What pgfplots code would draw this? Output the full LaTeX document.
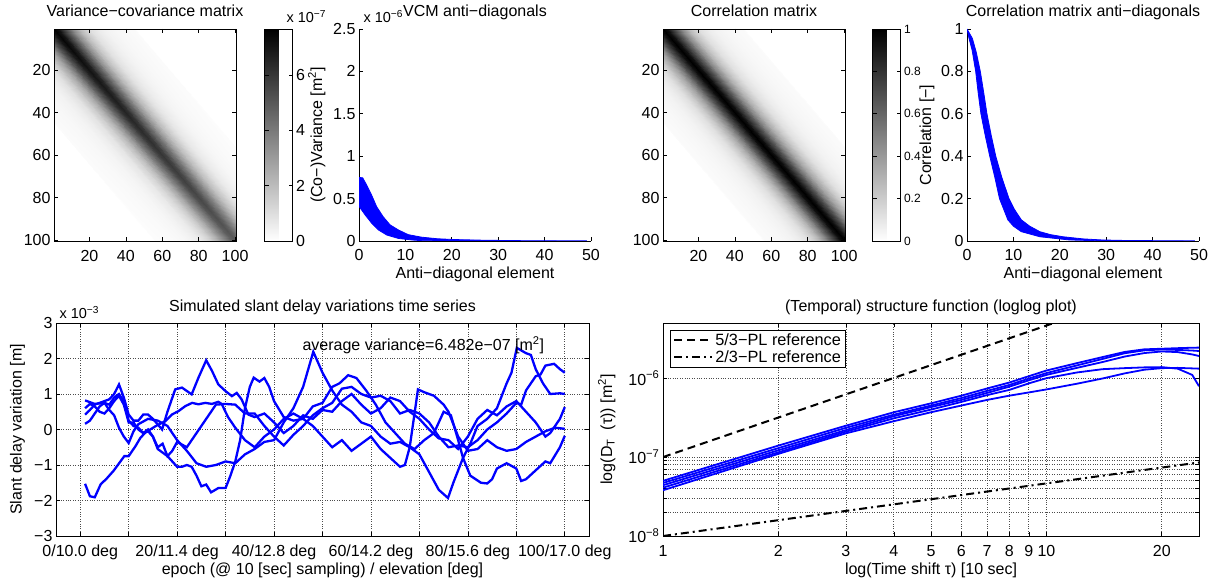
\documentclass[border=0pt]{standalone}
\usepackage{pgfplots}
\pgfplotsset{compat=1.18}
\usepackage{pgfplotstable}
\usepackage{fontspec}
\setmainfont{Liberation Sans}
\newcommand\fs{\fontsize{16}{19.2}\selectfont}
\newcommand\fsc{\fontsize{14.5}{17.4}\selectfont}
\newcommand\fss{\fontsize{12}{14.4}\selectfont}
\definecolor{mblue}{rgb}{0,0,1}

% lattice of lines parallel to the diagonal: x y v(VCM, 1e-7 m^2) c(correlation)
\pgfplotstableread{
x y v c
0.5 100.5 0 0
0.5 100.5 0 0
0.5 45.5 0 0
55.5 100.5 0 0
0.5 44.5 0.13 0.017
56.5 100.5 0.085 0.017
0.5 40.5 0.17 0.022
60.5 100.5 0.11 0.022
0.5 34.5 0.24 0.032
66.5 100.5 0.16 0.032
0.5 28.5 0.38 0.05
72.5 100.5 0.25 0.05
0.5 24.5 0.57 0.075
76.5 100.5 0.38 0.075
0.5 20.5 0.91 0.12
80.5 100.5 0.6 0.12
0.5 16.5 1.6 0.21
84.5 100.5 1.05 0.21
0.5 14.5 2.13 0.28
86.5 100.5 1.4 0.28
0.5 12.5 2.74 0.36
88.5 100.5 1.8 0.36
0.5 10.5 3.5 0.46
90.5 100.5 2.3 0.46
0.5 8.5 4.33 0.57
92.5 100.5 2.85 0.57
0.5 6.5 5.32 0.70
94.5 100.5 3.5 0.70
0.5 4.5 6.31 0.83
96.5 100.5 4.15 0.83
0.5 2.5 7.14 0.94
98.5 100.5 4.7 0.94
0.5 0.5 7.6 1
100.5 100.5 5.0 1
2.5 0.5 7.14 0.94
100.5 98.5 4.7 0.94
4.5 0.5 6.31 0.83
100.5 96.5 4.15 0.83
6.5 0.5 5.32 0.70
100.5 94.5 3.5 0.70
8.5 0.5 4.33 0.57
100.5 92.5 2.85 0.57
10.5 0.5 3.5 0.46
100.5 90.5 2.3 0.46
12.5 0.5 2.74 0.36
100.5 88.5 1.8 0.36
14.5 0.5 2.13 0.28
100.5 86.5 1.4 0.28
16.5 0.5 1.6 0.21
100.5 84.5 1.05 0.21
20.5 0.5 0.91 0.12
100.5 80.5 0.6 0.12
24.5 0.5 0.57 0.075
100.5 76.5 0.38 0.075
28.5 0.5 0.38 0.05
100.5 72.5 0.25 0.05
34.5 0.5 0.24 0.032
100.5 66.5 0.16 0.032
40.5 0.5 0.17 0.022
100.5 60.5 0.11 0.022
44.5 0.5 0.13 0.017
100.5 56.5 0.085 0.017
45.5 0.5 0 0
100.5 55.5 0 0
100.5 0.5 0 0
100.5 0.5 0 0
}\lattice

\pgfplotsset{
  every axis/.append style={font=\fs, scale only axis, anchor=south west,
    tick align=inside, major tick length=4pt,
    axis line style={line width=0.8pt}, tick style={line width=0.7pt, black},
    /pgf/number format/assume math mode=true},
  every axis title/.style={at={(0.5,1)}, anchor=base, yshift=12pt},
  every axis x label/.style={at={(axis description cs:0.5,0)}, anchor=base, yshift=-38pt},
  every axis y label/.style={rotate=90, anchor=base},
  xticklabel style={anchor=base, yshift=-20pt},
  mat/.style={width=182pt, height=212pt, xmin=0.5, xmax=100.5, ymin=0.5, ymax=100.5,
    y dir=reverse, xtick={20,40,60,80,100}, ytick={20,40,60,80,100},
    xticklabels={20,40,60,80,100}, yticklabels={20,40,60,80,100}, axis on top,
    colormap={wb}{gray(0cm)=(1); gray(1cm)=(0)}, colorbar},
  ad/.style={width=232pt, height=212pt, xmin=0, xmax=50, ymin=0, axis lines*=left,
    xtick={0,10,20,30,40,50}, xticklabels={0,10,20,30,40,50},
    xlabel={Anti−diagonal element}},
}

\begin{document}
\begin{tikzpicture}[font=\fs]
\useasboundingbox (0pt,0pt) rectangle (1213pt,584pt);

% ---------- VCM matrix
\begin{axis}[mat, at={(54pt,343pt)}, title={Variance−covariance matrix},
  point meta min=0, point meta max=7.66,
  colorbar style={at={(parent axis.north east)}, anchor=north west, xshift=20pt,
    scale only axis, width=28pt, height=212pt, ytick={0,2,4,6}, yticklabels={0,2,4,6},
    yticklabel pos=right, tick align=inside, major tick length=4pt}]
\addplot[surf, shader=interp, mesh/cols=2, point meta=explicit] table[x=x, y=y, meta=v] {\lattice};
\end{axis}
\node[anchor=base west, font=\fsc] at (283pt,561pt) {x 10\textsuperscript{−7}};

% ---------- VCM anti-diagonals
\begin{axis}[ad, at={(359pt,343pt)}, ymax=2.5,
  ytick={0,0.5,1,1.5,2,2.5}, yticklabels={0,0.5,1,1.5,2,2.5},
  title={VCM anti−diagonals}, ylabel={(Co−)Variance [m\textsuperscript{2}]},
  ylabel style={at={(axis description cs:-0.159,0.5)}}]
\addplot[fill=mblue, draw=mblue, line width=0.8pt] coordinates {
(0,0.75)(0.8,0.745)(1.65,0.66)(2.73,0.54)(3.8,0.405)(5.2,0.287)(6.7,0.19)(8.5,0.13)
(10.6,0.075)(13.5,0.045)(17,0.026)(20.7,0.017)(27,0.009)(35,0.004)(49,0.002)
(49,0)(35,0)(20,0.001)(13.5,0.004)(11.4,0.012)(8.5,0.03)(6.0,0.07)(4.2,0.13)
(2.73,0.21)(1.29,0.31)(0,0.41)};
\end{axis}
\node[anchor=base west, font=\fsc] at (360pt,561pt) {x 10\textsuperscript{−6}};

% ---------- Correlation matrix
\begin{axis}[mat, at={(663pt,343pt)}, title={Correlation matrix},
  point meta min=0, point meta max=1,
  colorbar style={at={(parent axis.north east)}, anchor=north west, xshift=19pt,
    scale only axis, width=28pt, height=212pt, ytick={0,0.2,0.4,0.6,0.8,1},
    yticklabels={0,0.2,0.4,0.6,0.8,1}, yticklabel style={font=\fss},
    yticklabel pos=right, tick align=inside, major tick length=4pt}]
\addplot[surf, shader=interp, mesh/cols=2, point meta=explicit] table[x=x, y=y, meta=c] {\lattice};
\end{axis}

% ---------- Correlation anti-diagonals
\begin{axis}[ad, at={(967pt,343pt)}, ymax=1,
  ytick={0,0.2,0.4,0.6,0.8,1}, yticklabels={0,0.2,0.4,0.6,0.8,1},
  title={Correlation matrix anti−diagonals}, ylabel={Correlation [−]},
  ylabel style={at={(axis description cs:-0.155,0.5)}}]
\addplot[fill=mblue, draw=mblue, line width=0.8pt] coordinates {
(0,1)(1.15,0.956)(2,0.89)(2.87,0.8)(3.6,0.7)(4.3,0.6)(5.2,0.5)(6.2,0.4)(7.5,0.3)
(9.05,0.2)(10.2,0.15)(11.7,0.1)(13.5,0.07)(15.7,0.044)(18,0.03)(20.7,0.02)(25,0.01)
(29,0.005)(35,0.002)(49,0.001)
(49,0)(30,0)(22,0.005)(15.7,0.02)(11.7,0.044)(10,0.07)(8.8,0.1)(7,0.2)(6,0.3)
(4.9,0.4)(3.9,0.5)(3.0,0.6)(2.4,0.7)(1.87,0.8)(1.1,0.9)(0.43,0.956)(0,1)};
\end{axis}

% ---------- Time series
\begin{axis}[at={(56pt,48pt)}, width=533pt, height=213pt, xmin=-5, xmax=105, ymin=-3, ymax=3,
  xtick={0,10,...,100},
  xticklabels={0/10.0 deg,{},20/11.4 deg,{},40/12.8 deg,{},60/14.2 deg,{},80/15.6 deg,{},100/17.0 deg},
  ytick={-3,-2,-1,0,1,2,3}, yticklabels={−3,−2,−1,0,1,2,3},
  grid=major, major grid style={dotted, black!70, line width=0.7pt},
  title={Simulated slant delay variations time series},
  xlabel={epoch (@ 10 [sec] sampling) / elevation [deg]},
  ylabel={Slant delay variation [m]},
  ylabel style={at={(axis description cs:-0.0647,0.5)}}]
\addplot[mblue, line width=2.3pt] coordinates {
(1,-1.53)(2,-1.88)(3,-1.91)(4.2,-1.55)(5.6,-1.36)(6.9,-1.16)(7.6,-1.03)(9.1,-0.75)(10,-0.75)
(11.4,-0.47)(12.4,-0.24)(13.4,-0.09)(15.5,0.09)(17.6,0.24)(18.9,0.42)(20.3,0.52)(21.7,0.66)
(23.1,0.75)(24.4,0.71)(25.8,0.75)(27.2,0.72)(28.5,0.78)(29.2,0.72)(30.5,0.35)(32,0.05)
(34,-0.3)(36,-0.5)(38,-0.2)(40,0.0)(42,0.3)(44,0.45)(46,0.3)(48,0.1)(50,-0.2)(52,-0.5)
(54,-0.3)(56,-0.6)(58,-0.4)(60,-0.2)(62,-0.55)(64,-0.8)(66,-1.05)(67,-1.0)(68,-0.5)
(69.7,1.13)(71,1.05)(73,0.95)(75,0.7)(76,0.5)(78,-0.2)(80,-0.6)(82,-0.55)(84,-0.3)
(86,-0.5)(88,-0.6)(90,-0.55)(92,-0.35)(94,-0.2)(96,-0.05)(98,0.05)(100,0.02)};
\addplot[mblue, line width=2.3pt] coordinates {
(1,0.42)(2,0.55)(3,0.7)(5,0.8)(6,0.85)(7,1.0)(8,1.27)(9,0.9)(10,0.42)(11,0.25)(12,0.25)
(13,0.42)(14,0.42)(15,0.3)(16.9,0.0)(18,0.5)(19.6,1.13)(21,1.18)(23,0.99)(24.4,1.46)
(26,1.95)(27.2,1.65)(28.5,1.27)(30,1.08)(31.3,0.94)(32.3,1.03)(33.3,0.85)(34.7,0.42)
(36,0.35)(38,0.45)(40,0.2)(42,-0.1)(44,0.1)(46,0.4)(48,0.3)(50,0.55)(52,0.5)(54,0.8)
(56,1.0)(58,0.7)(60,0.45)(62,0.6)(64,0.9)(66,0.8)(68,0.5)(70,0.3)(72,0.0)(74,-0.25)
(76,-0.3)(78,-0.55)(80,-0.2)(82,0.3)(84,0.55)(86,0.4)(88,0.65)(90,0.8)(92,0.5)(94,0.2)
(96,-0.2)(97,-0.1)(99,0.3)(100,0.63)};
\addplot[mblue, line width=2.3pt] coordinates {
(1,0.82)(3,0.72)(5,0.75)(6,0.55)(7,0.4)(8,0.05)(9,-0.2)(10,-0.38)(11,-0.05)(12,0.15)
(14,0.3)(16,0.25)(18,0.1)(20,-0.3)(22,-0.6)(24,-0.95)(26,-1.05)(28,-1.0)(30,-0.9)
(32,-0.95)(34,-0.7)(36,-0.55)(38,-0.35)(40,-0.3)(42,0.2)(44,0.6)(46,1.2)(48.1,2.19)
(50,1.6)(52,1.1)(54,0.7)(56,0.5)(58,0.2)(60,0.1)(62,-0.2)(64,-0.4)(66,-0.35)(68,-0.5)
(70,-0.7)(72,-1.2)(74,-1.7)(75.9,-1.93)(77,-1.5)(79,-0.8)(80.5,-0.4)(82,0.1)(84,0.3)
(86,0.6)(88,1.3)(89,1.6)(90.1,2.3)(92,2.15)(93,2.1)(94,1.7)(95.5,1.3)(97,1.0)(99,1.02)(100,1.0)};
\addplot[mblue, line width=2.3pt] coordinates {
(1,0.16)(2,0.25)(3,0.45)(4,0.65)(5,0.75)(6,0.7)(7,0.9)(8,1.0)(9,0.8)(10,0.25)(11,0.1)
(12,0.05)(13,-0.1)(14,-0.05)(15,-0.2)(16,-0.55)(17,-0.65)(18,-0.75)(19,-0.9)(20,-1.05)
(21,-1.05)(22,-1.0)(23,-1.05)(24,-1.3)(25,-1.6)(26,-1.55)(27,-1.77)(28.5,-1.65)(30,-1.65)
(31,-1.3)(32,-0.9)(33,-0.3)(34,0.6)(35,1.2)(35.8,1.46)(37,1.35)(38,1.45)(39,1.2)(40,0.8)
(42,0.35)(44,0.25)(46,0.3)(48,0.65)(50,0.75)(52,1.2)(53.5,1.3)(55.3,1.53)(57,1.45)(59,1.1)
(61,0.7)(63,0.2)(65,-0.1)(67,-0.4)(69,-0.55)(71,-0.3)(73,-0.1)(75,0.5)(76.5,0.4)(78,-0.3)
(79,-0.8)(80.5,-1.3)(82.7,-1.5)(84,-1.52)(85,-1.4)(86,-1.1)(88,-0.95)(90,-1.1)(91,-1.45)
(92,-1.4)(94,-1.15)(96,-0.9)(97,-0.95)(99,-0.5)(100,-0.18)};
\addplot[mblue, line width=2.3pt] coordinates {
(1,0.6)(2,0.72)(3,0.65)(4,0.5)(5,0.45)(6,0.6)(7,0.8)(8,0.95)(9,0.7)(10,0.2)(11,0.2)
(12,0.0)(13,-0.1)(14,0.0)(15,-0.2)(16,-0.5)(17,-0.4)(18,-0.75)(19,-0.6)(20,-0.35)
(22,-0.5)(23,-0.3)(24,-0.1)(26,0.3)(28,0.7)(30,0.72)(32,0.7)(34,0.45)(36,0.45)(38,0.1)
(40,-0.2)(42,-0.45)(44,-0.15)(46,0.1)(48,0.4)(50,0.6)(52,0.75)(54,1.15)(56,1.2)(58,1.0)
(60,0.9)(62,0.95)(64,0.8)(66,0.45)(68,0.55)(70,0.45)(72,0.2)(74,-0.2)(76,-0.5)(78,-0.45)
(80,-0.5)(82,-0.3)(84,0.0)(86,0.2)(88,0.45)(90,0.75)(91,0.7)(92,1.1)(93,1.3)(94,1.5)
(95,1.55)(96,1.8)(97.8,1.85)(99,1.7)(100,1.6)};
\end{axis}
\node[anchor=base west, font=\fsc] at (56pt,265.5pt) {x 10\textsuperscript{−3}};
\node[anchor=base west] at (299pt,233pt) {average variance=6.482e−07 [m\textsuperscript{2}]};

% ---------- Structure function
\begin{axis}[at={(663pt,48pt)}, width=536pt, height=213pt, xmode=log, ymode=log,
  xmin=1, xmax=25, ymin=1e-8, ymax=5e-6,
  xtick={1,2,3,4,5,6,7,8,9,10,20}, xticklabels={1,2,3,4,5,6,7,8,9,10,20},
  ytick={1e-8,2e-8,3e-8,4e-8,5e-8,6e-8,7e-8,8e-8,9e-8,1e-7,1e-6},
  yticklabels={10\textsuperscript{−8},{},{},{},{},{},{},{},{},10\textsuperscript{−7},10\textsuperscript{−6}},
  grid=major, major grid style={dotted, black!70, line width=0.8pt},
  title={(Temporal) structure function (loglog plot)},
  xlabel={log(Time shift τ) [10 sec]},
  ylabel={log(D\textsubscript{T}~~(τ)) [m\textsuperscript{2}]},
  ylabel style={at={(axis description cs:-0.095,0.5)}},
  legend style={at={(0.013,0.967)}, anchor=north west, draw=black, line width=0.8pt,
    font=\fontsize{16.3}{19.5}\selectfont, inner xsep=3pt, inner ysep=1pt},
  legend cell align=left,
  legend image code/.code={\draw[#1] (0pt,0pt) -- (38pt,0pt);}]
\addplot[mblue, line width=1.8pt, forget plot] coordinates {
(1,5.0e-8)(2,1.40e-7)(3,2.50e-7)(4,3.70e-7)(5,4.80e-7)(6,6.00e-7)(7,7.40e-7)(8,8.80e-7)
(9,1.06e-6)(10,1.25e-6)(12,1.55e-6)(14,1.85e-6)(16,2.15e-6)(18,2.32e-6)(20,2.36e-6)
(22,2.40e-6)(24,2.43e-6)(25,2.44e-6)};
\addplot[mblue, line width=1.8pt, forget plot] coordinates {
(1,4.7e-8)(2,1.30e-7)(3,2.35e-7)(4,3.45e-7)(5,4.50e-7)(6,5.60e-7)(7,6.90e-7)(8,8.20e-7)
(9,9.90e-7)(10,1.16e-6)(12,1.45e-6)(14,1.75e-6)(16,2.07e-6)(18,2.25e-6)(20,2.31e-6)
(22,2.28e-6)(24,2.24e-6)(25,2.21e-6)};
\addplot[mblue, line width=1.8pt, forget plot] coordinates {
(1,4.4e-8)(2,1.22e-7)(3,2.20e-7)(4,3.30e-7)(5,4.30e-7)(6,5.30e-7)(7,6.50e-7)(8,7.80e-7)
(9,9.40e-7)(10,1.10e-6)(12,1.35e-6)(14,1.60e-6)(16,1.88e-6)(18,2.08e-6)(20,2.18e-6)
(22,2.14e-6)(24,2.00e-6)(25,1.91e-6)};
\addplot[mblue, line width=1.8pt, forget plot] coordinates {
(1,4.1e-8)(2,1.15e-7)(3,2.10e-7)(4,3.10e-7)(5,4.00e-7)(6,5.00e-7)(7,6.10e-7)(8,7.10e-7)
(9,8.60e-7)(10,1.00e-6)(12,1.18e-6)(14,1.30e-6)(16,1.34e-6)(18,1.37e-6)(20,1.38e-6)
(22,1.32e-6)(24,1.10e-6)(25,7.9e-7)};
\addplot[mblue, line width=1.8pt, forget plot] coordinates {
(1,3.8e-8)(2,1.10e-7)(3,2.00e-7)(4,2.85e-7)(5,3.70e-7)(6,4.50e-7)(7,5.30e-7)(8,6.00e-7)
(9,6.60e-7)(10,7.20e-7)(12,8.50e-7)(14,9.90e-7)(16,1.15e-6)(18,1.28e-6)(20,1.34e-6)
(22,1.35e-6)(24,1.33e-6)(25,1.32e-6)};
\addplot[black, line width=2pt, dash pattern=on 8pt off 5pt] coordinates {(1,1e-7)(25,2.137e-5)};
\addlegendentry{5/3−PL reference}
\addplot[black, line width=2pt, dash pattern=on 8pt off 4pt on 2pt off 4pt] coordinates {(1,1e-8)(25,8.55e-8)};
\addlegendentry{2/3−PL reference}
\end{axis}
\end{tikzpicture}
\end{document}
